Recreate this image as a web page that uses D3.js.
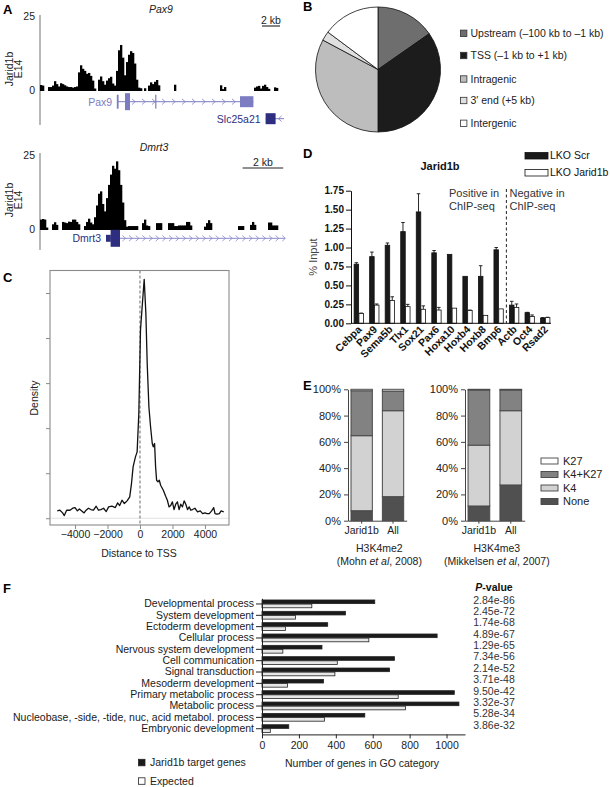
<!DOCTYPE html>
<html><head><meta charset="utf-8">
<script src="https://cdn.jsdelivr.net/npm/d3@7"></script>
<style>
body{margin:0;background:#fff;}
svg{display:block;font-family:"Liberation Sans",Arial,Helvetica,sans-serif;}
</style></head><body>
<svg id="fig" width="610" height="787"></svg>
<script>
// ================= DATA =================
// Panel A: ChIP-seq signal (Jarid1b E14), one value per bin
const pax9Signal = [1.7,1.5,0,0,1.0,1.0,1.5,3.0,2.0,1.2,2.3,2.0,1.6,1.2,1.0,1.0,0.8,1.0,1.2,6.0,
  8.4,7.2,6.5,5.5,5.8,4.8,3.2,0.5,0,3.5,4.6,3.0,1.8,3.2,4.0,4.5,2.2,1.5,6.5,13.5,
  15.3,11.0,5.0,9.5,12.0,13.2,12.6,9.0,3.5,0.8,0.6,0,0.6,0,1.5,2.6,2.0,2.8,3.4,1.6,
  0,0,0,0,0,0,0,1.8,0,0,0,0,0,0,0,0,0,0,0,0,
  0,0,0,0,0,0,0,0,0,0,1.6,0.3,1.0,0,0,0,0,0,0,0,
  0,0,0,0,0,0,0,0.8,1.2,1.4,0.5,1.4,1.8,1.0,0.4,0,0,0.9,0.7];
const dmrt3Signal = [3.2,3.4,3.2,0.5,0,0,1.6,2.3,1.4,0,0,2.4,2.2,2.0,2.5,2.4,3.2,3.2,2.4,1.6,
  0,0,1.0,2.4,3.5,2.2,1.6,4.0,8.0,12.0,12.8,8.5,6.0,10.5,15.0,18.5,21.5,20.5,23.0,20.0,
  15.0,9.0,3.0,0.8,1.0,1.0,1.0,1.0,1.0,0,0,2.0,3.2,1.2,1.0,0,0,0,2.0,2.0,
  2.0,0,0,0,2.0,2.0,2.0,1.0,1.0,1.2,1.2,1.2,1.2,2.4,2.4,1.2,0,0,0,0,
  0,0,0.8,2.0,3.0,2.0,0,0,0,0,0,0,0,0,0,0,0,0,0,1.0,
  1.0,1.0,0,0,0,1.4,2.4,1.4,0,0,0,0,0,0,2.2,2.2,1.2,1.2,1.2,0,0,0];
const trackTicks = [0, 25];
const pax9KbPerBin = 0.2222, dmrt3KbPerBin = 0.0985;
// gene models (bin coordinates): [start, end, kind]
const pax9Gene = {name:"Pax9", start:38.6, end:106.7};
const pax9Exons = [[38.4,39.3,"tick"],[42.5,45.0,"cds"],[57.6,58.2,"tick"],[100.0,106.7,"utr"]];
const slcGene = {name:"Slc25a21", start:112.8, end:122.0};
const slcExons = [[112.8,117.8,"utr"]];
const dmrt3Gene = {name:"Dmrt3", start:33.0, end:122.5};
const dmrt3Exons = [[33.0,35.4,"small"],[35.3,40.0,"cds"]];

// Panel B: peak location distribution (%)
const pieLabels = ["Upstream (\u2013100 kb to \u20131 kb)","TSS (\u20131 kb to +1 kb)","Intragenic","3\u2032 end (+5 kb)","Intergenic"];
const pieValues = [15.3, 34.7, 32.8, 2.4, 14.8];

// Panel C: density of distance to TSS
const tssDist = [-5095,-4930,-4764,-4661,-4516,-4310,-4144,-4000,-3855,-3731,-3586,-3442,-3318,-3173,-3028,-2863,-2697,-2553,-2408,-2243,
  -2077,-1933,-1726,-1519,-1375,-1251,-1106,-961,-796,-631,-527,-424,-279,-176,-72,31,134,259,362,444,
  548,651,755,817,899,961,1023,1106,1189,1271,1437,1581,1685,1788,1891,1995,2098,2201,2305,2408,
  2511,2615,2718,2821,2925,3028,3131,3235,3380,3545,3710,3855,4000,4124,4268,4413,4537,4620,4744,4888,4992,5157];
const tssDensity = [0.163,0.178,0.119,0.059,0.178,0.178,0.222,0.237,0.163,0.207,0.163,0.119,0.178,0.222,0.193,0.178,0.267,0.178,0.193,0.222,
  0.148,0.252,0.267,0.237,0.341,0.281,0.400,0.326,0.385,0.474,0.756,1.141,1.363,1.474,2.326,4.178,4.696,5.304,4.548,3.437,
  2.474,2.030,1.659,1.585,1.659,1.141,0.844,0.807,0.844,0.733,0.622,0.489,0.400,0.252,0.281,0.363,0.193,0.311,0.363,0.193,
  0.311,0.252,0.385,0.311,0.193,0.252,0.178,0.193,0.222,0.141,0.163,0.104,0.119,0.104,0.104,0.163,0.237,0.104,0.089,0.104,0.163,0.141];
const cXTicks = [-4000,-2000,0,2000,4000];
const cYTicks = [0,1,2,3,4,5];

// Panel D: ChIP-qPCR
const dGenes = ["Cebpa","Pax9","Sema5b","Tlx1","Sox21","Pax6","Hoxa10","Hoxb4","Hoxb8","Bmp6","Actb","Oct4","Rsad2"];
const dScr = [0.78,0.88,1.03,1.21,1.47,0.93,0.91,0.62,0.62,0.97,0.24,0.14,0.07];
const dScrErr = [0.02,0.06,0.03,0.12,0.24,0.03,0,0,0.14,0.03,0.05,0.005,0.005];
const dKd = [0.13,0.24,0.30,0.22,0.185,0.175,0.20,0.17,0.105,0.19,0.21,0.09,0.075];
const dKdErr = [0.005,0.015,0.05,0.03,0.045,0.035,0,0.005,0,0,0.045,0.02,0.005];
const dTicks = [0,0.25,0.5,0.75,1.0,1.25,1.5,1.75];
const dSeries = ["LKO Scr","LKO Jarid1b"];

// Panel E: chromatin state (%), bars: [Jarid1b, All]
const eCats = ["Jarid1b","All"];
const eStates = ["None","K4","K4+K27","K27"];
const eMe2 = {None:[7.6,18.3], K4:[57.1,65.4], "K4+K27":[34.2,15.0], K27:[1.1,1.3]};
const eMe3 = {None:[11.2,27.2], K4:[46.3,56.5], "K4+K27":[42.0,15.8], K27:[0.5,0.5]};
const eTicks = [0,20,40,60,80,100];

// Panel F: GO categories
const goTerms = ["Developmental process","System development","Ectoderm development","Cellular process","Nervous system development","Cell communication","Signal transduction","Mesoderm development","Primary metabolic process","Metabolic process","Nucleobase, -side, -tide, nuc, acid metabol. process","Embryonic development"];
const goTarget = [611,452,356,949,325,718,691,333,1042,1067,557,145];
const goExpected = [270,181,127,579,113,408,395,138,738,778,338,45];
const goPvalues = ["2.84e-86","2.45e-72","1.74e-68","4.89e-67","1.29e-65","7.34e-56","2.14e-52","3.71e-48","9.50e-42","3.32e-37","5.28e-34","3.86e-32"];
const fTicks = [0,200,400,600,800,1000];

// ================= DRAWING =================
const svg = d3.select("#fig");
svg.append("rect").attr("width",610).attr("height",787).attr("fill","#fff");
const FS = 10.5;
function label(x,y,s,o={}){
  const t = svg.append("text").attr("x",x).attr("y",y).attr("font-size",o.size||FS)
    .attr("fill",o.fill||"#1a1a1a").attr("text-anchor",o.anchor||"start").text(s);
  if(o.weight) t.attr("font-weight",o.weight);
  if(o.style) t.attr("font-style",o.style);
  if(o.transform) t.attr("transform",o.transform).attr("x",null).attr("y",null);
  return t;
}
// Panel letters
[["A",3,14],["B",303,11],["C",3,282],["D",303,158],["E",303,390],["F",3,593]].forEach(([s,x,y])=>
  label(x,y,s,{size:13,weight:"bold",fill:"#000"}));

// ---------- Panel A ----------
const geneLight = "#7c7cc2", geneDark = "#2e2e80";
const exonH = {cds:17, utr:11, tick:14, small:7};
function chevrons(g,x,xs,y,dir,color){
  g.selectAll(null).data(xs).join("polyline")
    .attr("points",d=>{const px=x(d);return `${px-1.6*dir},${y-2.8} ${px+1.6*dir},${y} ${px-1.6*dir},${y+2.8}`;})
    .attr("fill","none").attr("stroke",color).attr("stroke-width",0.8);
}
function drawTrack(cfg){
  const g = svg.append("g");
  const x = d3.scaleLinear().domain([0,cfg.nBins]).range(cfg.xRange);
  const y = d3.scaleLinear().domain([0,25]).range(cfg.yRange);
  g.append("line").attr("x1",40).attr("x2",40).attr("y1",cfg.axis[0]).attr("y2",cfg.axis[1])
    .attr("stroke","#8a8a8a").attr("stroke-width",1.2);
  g.selectAll(null).data(trackTicks).join("text").attr("x",35).attr("y",d=>y(d)+3.8)
    .attr("text-anchor","end").attr("font-size",FS).attr("fill","#222").text(d=>d);
  const bars = cfg.signal.map((v,i)=>({v,i})).filter(d=>d.v>0);
  g.selectAll(null).data(bars).join("rect")
    .attr("x",d=>x(d.i)).attr("width",d=>x(d.i+1)-x(d.i)+0.3)
    .attr("y",d=>y(d.v)).attr("height",d=>y(0)-y(d.v)+1).attr("fill","#000");
  // title
  g.append("text").attr("x",cfg.titleX).attr("y",cfg.titleY).attr("text-anchor","middle")
    .attr("font-size",FS).attr("font-style","italic").attr("fill","#222").text(cfg.title);
  // y label
  g.append("text").attr("transform",`translate(13.3,${cfg.ylabY}) rotate(-90)`).attr("text-anchor","middle")
    .attr("font-size",FS).attr("fill","#222").text("Jarid1b");
  g.append("text").attr("transform",`translate(21.8,${cfg.ylabY}) rotate(-90)`).attr("text-anchor","middle")
    .attr("font-size",FS).attr("fill","#222").text("E14");
  // scale bar
  const sbLen = 2/cfg.kbPerBin;
  const x0 = x(cfg.sbEnd - sbLen), x1 = x(cfg.sbEnd);
  g.append("line").attr("x1",x0).attr("x2",x1).attr("y1",cfg.sbY).attr("y2",cfg.sbY).attr("stroke","#222").attr("stroke-width",1.1);
  g.append("text").attr("x",(x0+x1)/2).attr("y",cfg.sbY-2.5).attr("text-anchor","middle").attr("font-size",FS).attr("fill","#222").text("2 kb");
  return {g,x,y};
}
function drawGene(g,x,gene,exons,gy,lineColor,exonColor,labelColor,chevs,dir){
  g.append("line").attr("x1",x(gene.start)).attr("x2",x(gene.end)).attr("y1",gy).attr("y2",gy)
    .attr("stroke",lineColor).attr("stroke-width",1);
  chevrons(g,x,chevs,gy,dir,lineColor);
  g.selectAll(null).data(exons).join("rect")
    .attr("x",d=>x(d[0])).attr("width",d=>Math.max(1.2,x(d[1])-x(d[0])))
    .attr("y",d=>gy-exonH[d[2]]/2).attr("height",d=>exonH[d[2]]).attr("fill",exonColor);
  g.append("text").attr("x",x(gene.start)-5).attr("y",gy+3.8).attr("text-anchor","end")
    .attr("font-size",FS).attr("fill",labelColor).text(gene.name);
}
const tPax = drawTrack({signal:pax9Signal,nBins:119,xRange:[40,278],yRange:[90,16.5],axis:[15,125],
  title:"Pax9",titleX:161,titleY:12.5,ylabY:69,kbPerBin:pax9KbPerBin,sbEnd:120,sbY:26});
drawGene(tPax.g,tPax.x,pax9Gene,pax9Exons,101.7,geneLight,geneLight,geneLight,d3.range(46.8,99.5,5),1);
drawGene(tPax.g,tPax.x,slcGene,slcExons,118.7,geneLight,geneDark,geneDark,[120],-1);
const tDm = drawTrack({signal:dmrt3Signal,nBins:122,xRange:[40,284],yRange:[229,155.5],axis:[153,250],
  title:"Dmrt3",titleX:154,titleY:150.5,ylabY:200,kbPerBin:dmrt3KbPerBin,sbEnd:121.6,sbY:168});
drawGene(tDm.g,tDm.x,dmrt3Gene,dmrt3Exons,238.3,"#8a8acc",geneDark,geneDark,d3.range(42,122,3.33),1);

// ---------- Panel B ----------
const pieColors = ["#6e6e6e","#1c1c1c","#bdbdbd","#e0e0e0","#ffffff"];
const pie = d3.pie().sort(null).value(d=>d)(pieValues);
const arc = d3.arc().innerRadius(0).outerRadius(62.5);
svg.append("g").attr("transform","translate(378,69.5)").selectAll("path").data(pie).join("path")
  .attr("d",arc).attr("fill",(d,i)=>pieColors[i]).attr("stroke","#111").attr("stroke-width",0.8);
const legB = [33.3,55.5,79,100.5,123.3];
pieLabels.forEach((s,i)=>{
  svg.append("rect").attr("x",460.5).attr("y",legB[i]-3.2).attr("width",6.4).attr("height",6.4)
    .attr("fill",pieColors[i]).attr("stroke","#333").attr("stroke-width",0.8);
  label(470.5,legB[i]+3.8,s,{fill:"#222"});
});

// ---------- Panel C ----------
const xC = d3.scaleLinear().domain([-5540,5480]).range([50,229]);
const yC = d3.scaleLinear().domain([-0.15,5.5]).range([525,270.5]);
const gC = svg.append("g");
gC.append("line").attr("x1",50).attr("x2",229).attr("y1",yC(0)).attr("y2",yC(0)).attr("stroke","#e0e0e0").attr("stroke-width",1.2);
gC.append("line").attr("x1",xC(0)).attr("x2",xC(0)).attr("y1",270.5).attr("y2",525)
  .attr("stroke","#777").attr("stroke-width",1.1).attr("stroke-dasharray","3,2");
gC.append("path").datum(tssDist.map((d,i)=>[d,tssDensity[i]]))
  .attr("d",d3.line().x(d=>xC(d[0])).y(d=>yC(d[1])))
  .attr("fill","none").attr("stroke","#111").attr("stroke-width",1.3).attr("stroke-linejoin","round");
gC.append("rect").attr("x",50).attr("y",270.5).attr("width",179).attr("height",254.5)
  .attr("fill","none").attr("stroke","#8a8a8a").attr("stroke-width",1.1);
const axCy = gC.append("g").attr("transform","translate(50,0)")
  .call(d3.axisLeft(yC).tickValues(cYTicks).tickFormat("").tickSize(4).tickSizeOuter(0));
axCy.select(".domain").remove();
axCy.selectAll("line").attr("stroke","#8a8a8a");
const axCx = gC.append("g").attr("transform","translate(0,525)")
  .call(d3.axisBottom(xC).tickValues(cXTicks).tickFormat(d=>d<0?"\u2212"+Math.abs(d):d).tickSize(4).tickSizeOuter(0).tickPadding(2));
axCx.select(".domain").remove();
axCx.selectAll("line").attr("stroke","#8a8a8a");
axCx.selectAll("text").attr("font-size",FS).attr("fill","#222").attr("font-family",null);
label(139,557,"Distance to TSS",{anchor:"middle",fill:"#222"});
label(0,0,"Density",{anchor:"middle",fill:"#222",transform:"translate(38,398) rotate(-90)"});

// ---------- Panel D ----------
const xD = d3.scaleBand().domain(dGenes).range([351,553]).paddingInner(0.4).paddingOuter(0.2);
const xDs = d3.scaleBand().domain(dSeries).range([0,xD.bandwidth()]).paddingInner(0.06);
const yD = d3.scaleLinear().domain([0,1.75]).range([323.3,190.7]);
const gD = svg.append("g");
const dRows = dGenes.map((g,i)=>({g, vals:[{s:dSeries[0],v:dScr[i],e:dScrErr[i]},{s:dSeries[1],v:dKd[i],e:dKdErr[i]}]}));
const dGrp = gD.selectAll(null).data(dRows).join("g").attr("transform",d=>`translate(${xD(d.g)},0)`);
dGrp.selectAll("line.err").data(d=>d.vals.filter(v=>v.e>0.004)).join("line")
  .attr("x1",d=>xDs(d.s)+xDs.bandwidth()/2).attr("x2",d=>xDs(d.s)+xDs.bandwidth()/2)
  .attr("y1",d=>yD(d.v)).attr("y2",d=>yD(d.v+d.e)).attr("stroke","#111").attr("stroke-width",0.9);
dGrp.selectAll("line.cap").data(d=>d.vals.filter(v=>v.e>0.004)).join("line")
  .attr("x1",d=>xDs(d.s)+0.5).attr("x2",d=>xDs(d.s)+xDs.bandwidth()-0.5)
  .attr("y1",d=>yD(d.v+d.e)).attr("y2",d=>yD(d.v+d.e)).attr("stroke","#111").attr("stroke-width",0.9);
dGrp.selectAll("rect").data(d=>d.vals).join("rect")
  .attr("x",d=>xDs(d.s)).attr("width",xDs.bandwidth())
  .attr("y",d=>yD(d.v)).attr("height",d=>yD(0)-yD(d.v))
  .attr("fill",(d,i)=>i===0?"#1a1a1a":"#fff").attr("stroke","#111").attr("stroke-width",0.8);
const axDy = gD.append("g").attr("transform","translate(351,0)")
  .call(d3.axisLeft(yD).tickValues(dTicks).tickFormat(d3.format(".2f")).tickSize(5).tickSizeOuter(0).tickPadding(2));
axDy.selectAll("text").attr("font-size",10).attr("font-weight","bold").attr("fill","#111").attr("font-family",null);
axDy.selectAll("line,path").attr("stroke","#111");
gD.append("line").attr("x1",351).attr("x2",551).attr("y1",323.3).attr("y2",323.3).attr("stroke","#111").attr("stroke-width",1);
gD.selectAll("text.xl").data(dGenes).join("text")
  .attr("transform",d=>`translate(${xD(d)+xD.bandwidth()/2+3.5},330) rotate(-45)`)
  .attr("text-anchor","end").attr("font-size",10.5).attr("font-weight","bold").attr("fill","#111").text(d=>d);
label(440,170,"Jarid1b",{anchor:"middle",weight:"bold",size:11,fill:"#111"});
label(0,0,"% Input",{anchor:"middle",fill:"#444",size:11,transform:"translate(317,257) rotate(-90)"});
const xDiv = (xD("Bmp6")+xD.bandwidth()+xD("Actb"))/2;
gD.append("line").attr("x1",xDiv).attr("x2",xDiv).attr("y1",189).attr("y2",323.3)
  .attr("stroke","#222").attr("stroke-width",1).attr("stroke-dasharray","3,2.5");
label(449,197,"Positive in",{size:11,fill:"#333"});
label(449,210,"ChIP-seq",{size:11,fill:"#333"});
label(509.5,197,"Negative in",{size:11,fill:"#333"});
label(509.5,210,"ChIP-seq",{size:11,fill:"#333"});
[[dSeries[0],"#1a1a1a",152.5,159.3],[dSeries[1],"#fff",169.5,176.3]].forEach(([s,c,y,ty])=>{
  svg.append("rect").attr("x",525).attr("y",y).attr("width",23).attr("height",6.5).attr("fill",c).attr("stroke","#111").attr("stroke-width",0.8);
  label(550,ty,s,{fill:"#111"});
});

// ---------- Panel E ----------
const eColors = {None:"#505050",K4:"#d2d2d2","K4+K27":"#828282",K27:"#ffffff"};
const yE = d3.scaleLinear().domain([0,100]).range([520.7,389.3]);
function drawStack(data,axisX,rangeEnd,title,ref,refYear){
  const g = svg.append("g");
  const xE = d3.scaleBand().domain(eCats).range([axisX,rangeEnd]).paddingInner(0.32).paddingOuter(0.096);
  const rows = eCats.map((c,i)=>{const o={cat:c}; eStates.forEach(s=>o[s]=data[s][i]); return o;});
  const stacked = d3.stack().keys(eStates)(rows);
  g.selectAll(null).data(stacked).join("g").attr("fill",d=>eColors[d.key])
    .selectAll("rect").data(d=>d).join("rect")
    .attr("x",d=>xE(d.data.cat)).attr("width",xE.bandwidth())
    .attr("y",d=>yE(d[1])).attr("height",d=>yE(d[0])-yE(d[1]))
    .attr("stroke","#4a4a4a").attr("stroke-width",1);
  const ay = g.append("g").attr("transform",`translate(${axisX},0)`)
    .call(d3.axisLeft(yE).tickValues(eTicks).tickFormat(d=>d+"%").tickSize(4).tickSizeOuter(0).tickPadding(3));
  ay.selectAll("text").attr("font-size",11).attr("fill","#222").attr("font-family",null);
  ay.selectAll("line,path").attr("stroke","#444");
  const ax = g.append("g").attr("transform","translate(0,520.7)")
    .call(d3.axisBottom(xE).tickSize(3).tickSizeOuter(0).tickPadding(3));
  ax.selectAll("text").attr("font-size",FS).attr("fill","#222").attr("font-family",null);
  ax.selectAll("line,path").attr("stroke","#444");
  const cx = (axisX+rangeEnd)/2+2;
  g.append("text").attr("x",cx).attr("y",552).attr("text-anchor","middle").attr("font-size",FS).attr("fill","#222").text(title);
  const t = g.append("text").attr("x",cx).attr("y",565).attr("text-anchor","middle").attr("font-size",FS).attr("fill","#222");
  t.append("tspan").text("("+ref+" ");
  t.append("tspan").attr("font-style","italic").text("et al");
  t.append("tspan").text(", "+refYear+")");
}
drawStack(eMe2,348,406.7,"H3K4me2","Mohn","2008");
drawStack(eMe3,465,524.7,"H3K4me3","Mikkelsen","2007");
const legE = [["K27",461],["K4+K27",474.5],["K4",488],["None",501.5]];
legE.forEach(([s,y])=>{
  svg.append("rect").attr("x",541).attr("y",y-3).attr("width",17).attr("height",6).attr("fill",eColors[s]).attr("stroke","#444").attr("stroke-width",0.9);
  label(563,y+3.8,s,{size:11,fill:"#222"});
});

// ---------- Panel F ----------
const yF = d3.scaleBand().domain(goTerms).range([598.3,734.4]);
const bwF = yF.bandwidth();
const subF = d3.scaleBand().domain(["target","expected"]).range([bwF/2-4,bwF/2+3.8]).paddingInner(0.12);
const xF = d3.scaleLinear().domain([0,1100]).range([262,465]);
const gF = svg.append("g");
const fRows = goTerms.map((t,i)=>({t,vals:[{k:"target",v:goTarget[i]},{k:"expected",v:goExpected[i]}]}));
gF.selectAll(null).data(fRows).join("g").attr("transform",d=>`translate(0,${yF(d.t)})`)
  .selectAll("rect").data(d=>d.vals).join("rect")
  .attr("x",xF(0)).attr("width",d=>xF(d.v)-xF(0))
  .attr("y",d=>subF(d.k)).attr("height",subF.bandwidth())
  .attr("fill",d=>d.k==="target"?"#1a1a1a":"#e6e6e6").attr("stroke","#222").attr("stroke-width",0.8);
const axFy = gF.append("g").attr("transform","translate(262,0)")
  .call(d3.axisLeft(yF).tickSize(6).tickSizeOuter(0).tickPadding(2));
axFy.selectAll("text").attr("font-size",FS).attr("fill","#1a1a1a").attr("font-family",null);
axFy.selectAll("line,path").attr("stroke","#222");
const axFx = gF.append("g").attr("transform","translate(0,734.4)")
  .call(d3.axisBottom(xF).tickValues(fTicks).tickFormat(d3.format("d")).tickSize(4).tickSizeOuter(0).tickPadding(3));
axFx.selectAll("text").attr("font-size",FS).attr("fill","#222").attr("font-family",null);
axFx.selectAll("line,path").attr("stroke","#222");
label(362,767,"Number of genes in GO category",{anchor:"middle",fill:"#222"});
const pv = svg.append("text").attr("x",494).attr("y",590.5).attr("text-anchor","middle").attr("font-size",FS).attr("font-weight","bold").attr("fill","#111");
pv.append("tspan").attr("font-style","italic").text("P");
pv.append("tspan").text("-value");
svg.selectAll("text.pv").data(goPvalues).join("text")
  .attr("x",494).attr("y",(d,i)=>yF(goTerms[i])+bwF/2-4+3.8).attr("text-anchor","middle")
  .attr("font-size",FS).attr("fill","#333").text(d=>d);
[["Jarid1b target genes","#1a1a1a",762.5],["Expected","#fff",781]].forEach(([s,c,y])=>{
  svg.append("rect").attr("x",138.5).attr("y",y-3.2).attr("width",6.5).attr("height",6.5).attr("fill",c).attr("stroke","#222").attr("stroke-width",0.8);
  label(150,y+3.8,s,{fill:"#222"});
});
</script>
</body></html>
